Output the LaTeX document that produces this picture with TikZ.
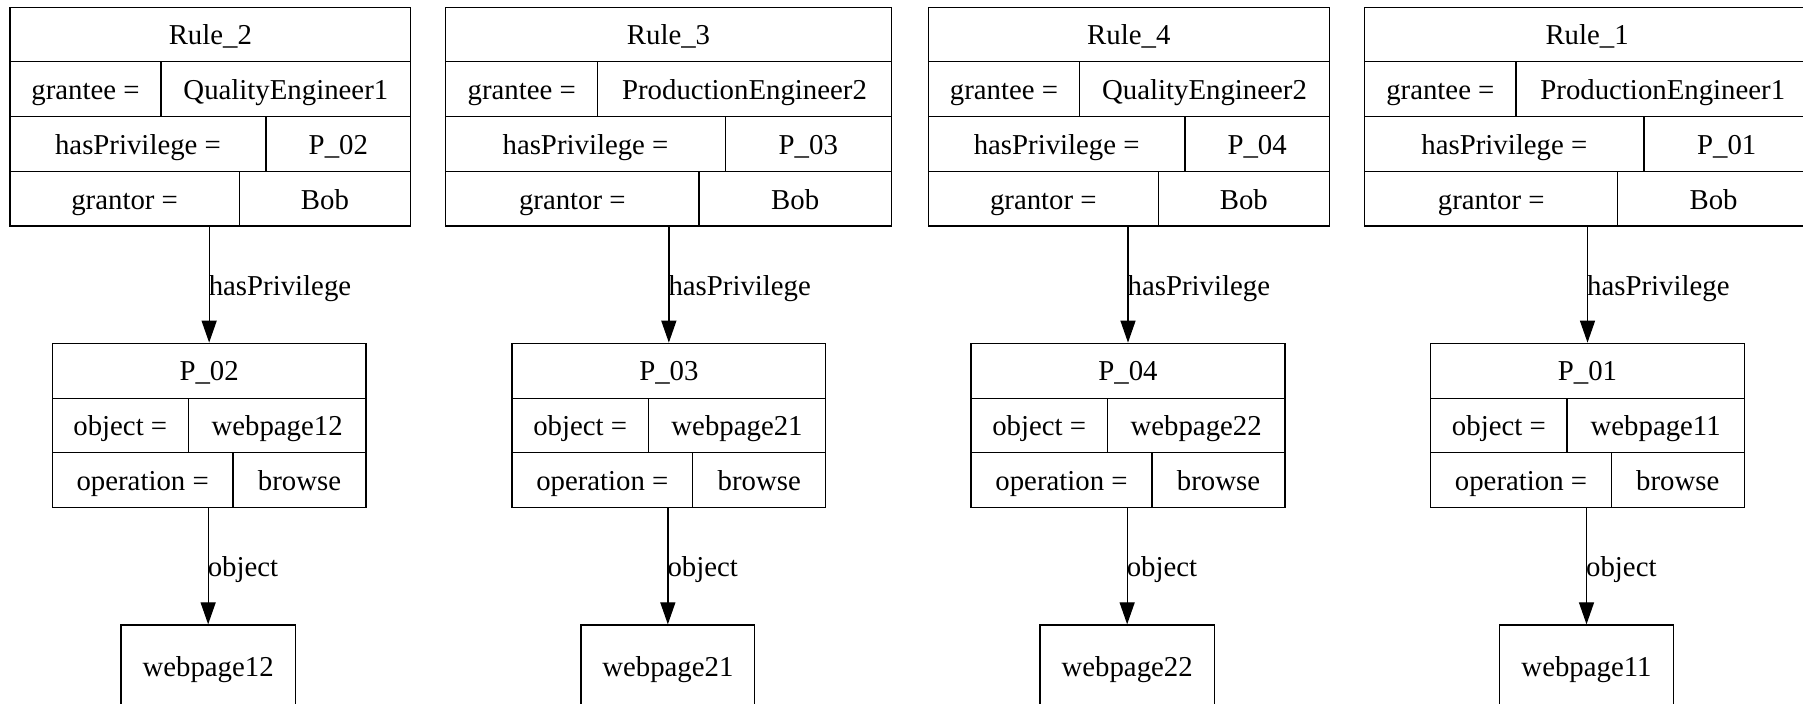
\documentclass[tikz,border=0pt]{standalone}
\usepackage{fontspec}
\setmainfont{Liberation Serif}
\usetikzlibrary{arrows.meta,fit}

\begin{document}
\begin{tikzpicture}[x=0.5pt,y=-0.5pt,
  box/.style={draw, line width=0.65pt, inner sep=0pt},
  divider/.style={line width=0.65pt},
  cell/.style={inner sep=0pt, anchor=base, font=\fontsize{14.4pt}{17pt}\selectfont},
  link/.style={line width=0.65pt, -{Triangle[length=11pt,width=7.5pt]}},
  linklabel/.style={inner sep=0pt, anchor=base west, xshift=-0.5pt, font=\fontsize{14.4pt}{17pt}\selectfont}]

\useasboundingbox (0,0) rectangle (1803,704);

% one column per rule: rule record, privilege record, page box
\foreach \id/\rl/\rr/\ra/\rb/\rc/\who/\pl/\pr/\pa/\pb/\pg/\wl/\wr in {
  2/10/410.7/161/266/239.3/QualityEngineer1/52.3/366/188.3/233/12/121/295.3,
  3/445.7/891.3/597.7/725.3/699/ProductionEngineer2/512/825.7/648.3/692.7/21/581/754.7,
  4/928.3/1329.3/1079.7/1185/1158.3/QualityEngineer2/971/1285/1107.3/1152/22/1040/1214.3,
  1/1364.7/1809.5/1516/1644/1617.7/ProductionEngineer1/1430.7/1744.3/1567/1611.3/11/1499.7/1673.3}
{
  % rule record
  \node[box, fit={(\rl,7.3) (\rr,226)}] (rule\id) {};
  \draw[divider] (\rl,61.7) -- (\rr,61.7) (\rl,116.7) -- (\rr,116.7) (\rl,171.7) -- (\rr,171.7)
    (\ra,61.7) -- (\ra,116.7) (\rb,116.7) -- (\rb,171.7) (\rc,171.7) -- (\rc,226);
  \node[cell] (rule\id-title) at ({(\rl+\rr)/2},44.8) {Rule\_\id};
  \node[cell] (rule\id-k1) at ({(\rl+\ra)/2},99.2) {grantee =};
  \node[cell] (rule\id-v1) at ({(\ra+\rr)/2},99.2) {\who};
  \node[cell] (rule\id-k2) at ({(\rl+\rb)/2},154.2) {hasPrivilege =};
  \node[cell] (rule\id-v2) at ({(\rb+\rr)/2},154.2) {P\_0\id};
  \node[cell] (rule\id-k3) at ({(\rl+\rc)/2},209.2) {grantor =};
  \node[cell] (rule\id-v3) at ({(\rc+\rr)/2},209.2) {Bob};

  % privilege record
  \node[box, fit={(\pl,343.3) (\pr,507.3)}] (priv\id) {};
  \draw[divider] (\pl,398.3) -- (\pr,398.3) (\pl,452.7) -- (\pr,452.7)
    (\pa,398.3) -- (\pa,452.7) (\pb,452.7) -- (\pb,507.3);
  \node[cell] (priv\id-title) at ({(\pl+\pr)/2},380.8) {P\_0\id};
  \node[cell] (priv\id-k1) at ({(\pl+\pa)/2},435.8) {object =};
  \node[cell] (priv\id-v1) at ({(\pa+\pr)/2},435.8) {webpage\pg};
  \node[cell] (priv\id-k2) at ({(\pl+\pb)/2},490.2) {operation =};
  \node[cell] (priv\id-v2) at ({(\pb+\pr)/2},490.2) {browse};

  % page box
  \node[box, fit={(\wl,625) (\wr,740)}] (page\id) {};
  \node[cell] (page\id-title) at ({(\wl+\wr)/2},676) {webpage\pg};

  % connectors
  \draw[link] (priv\id.north |- rule\id.south) --
    node[linklabel, pos=0.59] (lp\id) {hasPrivilege} (priv\id.north);
  \draw[link] (page\id.north |- priv\id.south) --
    node[linklabel, pos=0.59] (lo\id) {object} (page\id.north);
}
\end{tikzpicture}
\end{document}
